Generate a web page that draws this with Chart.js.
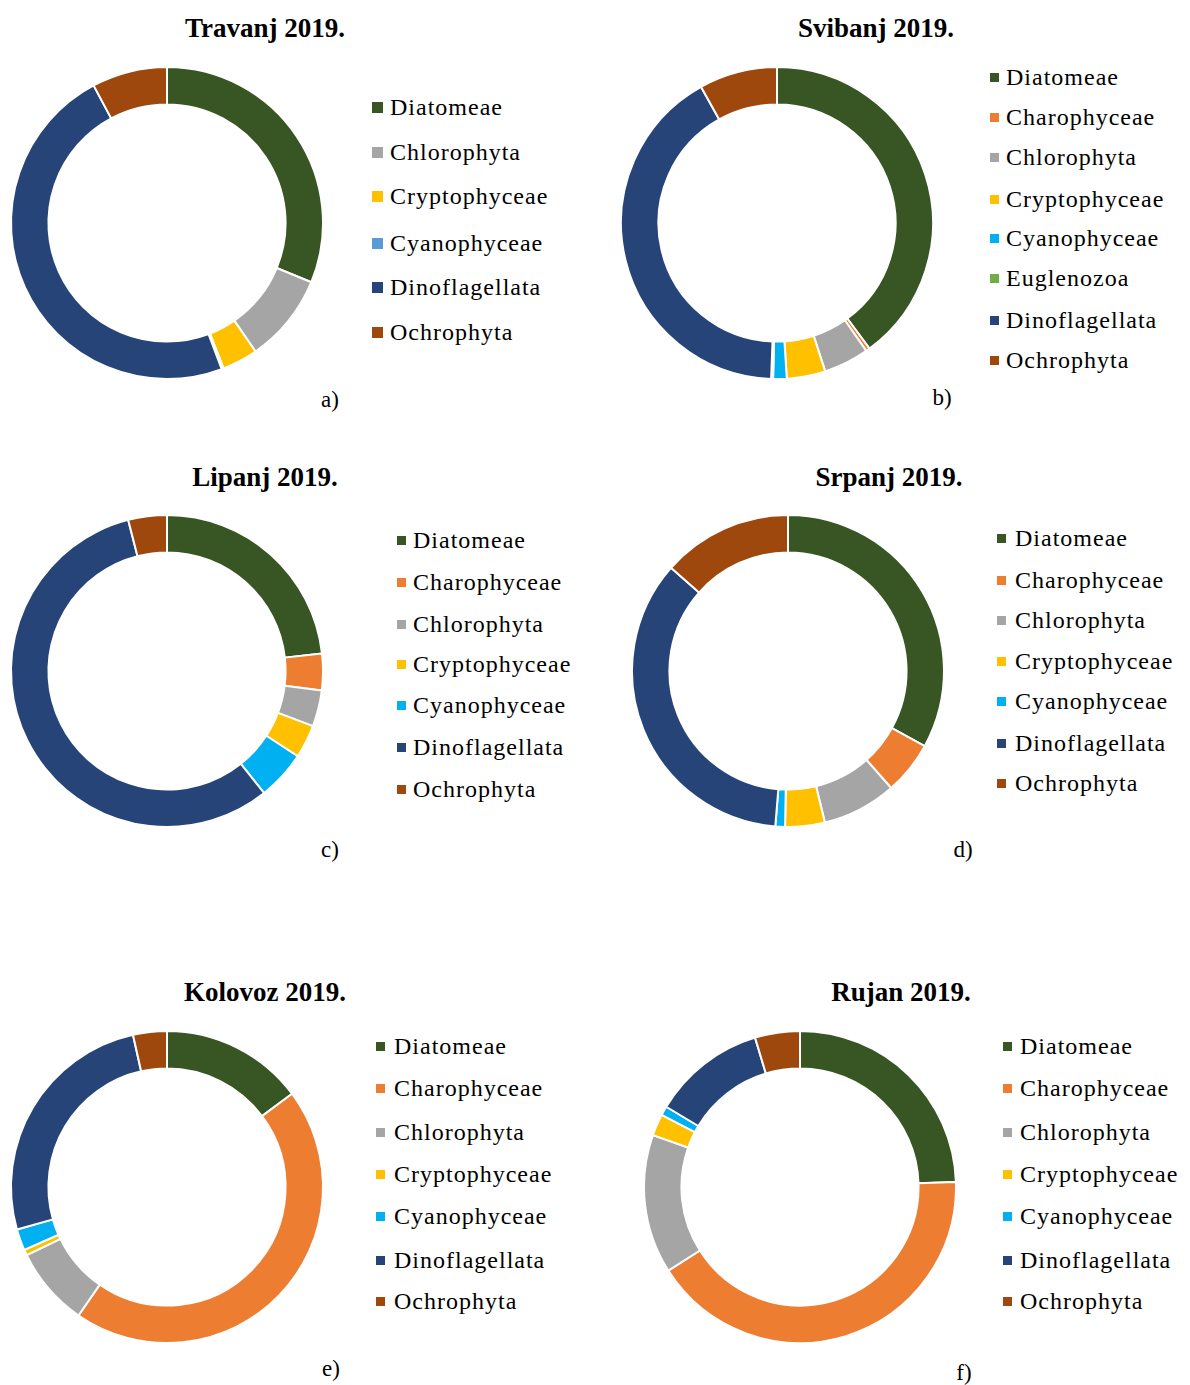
<!DOCTYPE html>
<html>
<head>
<meta charset="utf-8">
<script src="https://cdn.jsdelivr.net/npm/chart.js@4.4.1/dist/chart.umd.min.js"></script>
<style>
  html, body { margin: 0; padding: 0; background: #fff; }
  #page { position: relative; width: 1190px; height: 1385px; overflow: hidden; font-family: "Liberation Serif", "Times New Roman", serif; color: #000; }
  canvas { position: absolute; }
  .title { position: absolute; font-weight: bold; font-size: 27px; white-space: nowrap; transform: translate(-50%, -50%); line-height: 1; }
  .leg-sq { position: absolute; }
  .leg-tx { position: absolute; font-size: 24px; letter-spacing: 1px; white-space: nowrap; transform: translateY(-50%); line-height: 1; }
  .tag { position: absolute; font-size: 23px; white-space: nowrap; transform: translate(-50%, -50%); line-height: 1; }
</style>
</head>
<body>
<div id="page"></div>
<script>
// ---------- data ----------
const titles = ["Travanj 2019.", "Svibanj 2019.", "Lipanj 2019.", "Srpanj 2019.", "Kolovoz 2019.", "Rujan 2019."];
const tags = ["a)", "b)", "c)", "d)", "e)", "f)"];

const travanjLabels = ["Diatomeae", "Chlorophyta", "Cryptophyceae", "Cyanophyceae", "Dinoflagellata", "Ochrophyta"];
const travanjValues = [31.2, 9.2, 3.7, 0.2, 47.9, 7.8];

const svibanjLabels = ["Diatomeae", "Charophyceae", "Chlorophyta", "Cryptophyceae", "Cyanophyceae", "Euglenozoa", "Dinoflagellata", "Ochrophyta"];
const svibanjValues = [39.9, 0.4, 4.7, 4.0, 1.4, 0.2, 41.3, 8.1];

const lipanjLabels = ["Diatomeae", "Charophyceae", "Chlorophyta", "Cryptophyceae", "Cyanophyceae", "Dinoflagellata", "Ochrophyta"];
const lipanjValues = [23.2, 3.8, 3.75, 3.45, 5.1, 56.7, 4.0];

const srpanjLabels = ["Diatomeae", "Charophyceae", "Chlorophyta", "Cryptophyceae", "Cyanophyceae", "Dinoflagellata", "Ochrophyta"];
const srpanjValues = [33.0, 5.5, 7.7, 4.1, 1.0, 35.2, 13.5];

const kolovozLabels = ["Diatomeae", "Charophyceae", "Chlorophyta", "Cryptophyceae", "Cyanophyceae", "Dinoflagellata", "Ochrophyta"];
const kolovozValues = [14.8, 44.8, 8.2, 0.6, 2.2, 25.9, 3.5];

const rujanLabels = ["Diatomeae", "Charophyceae", "Chlorophyta", "Cryptophyceae", "Cyanophyceae", "Dinoflagellata", "Ochrophyta"];
const rujanValues = [24.5, 41.5, 14.4, 2.25, 0.95, 11.75, 4.65];

// ---------- styles ----------
const palette = {
  "Diatomeae": "#375623",
  "Charophyceae": "#ED7D31",
  "Chlorophyta": "#A5A5A5",
  "Cryptophyceae": "#FFC000",
  "Cyanophyceae": "#00B0F0",
  "Euglenozoa": "#70AD47",
  "Dinoflagellata": "#264478",
  "Ochrophyta": "#9E480E"
};
const paletteA = Object.assign({}, palette, { "Cyanophyceae": "#5B9BD5" });

const layouts = [
  { labels: travanjLabels, values: travanjValues, pal: paletteA, cx: 167, cy: 223, tx: 265, ty: 28, sqx: 372, sq: 11, txx: 390, legY: [107, 152, 196, 243, 287, 332], gx: 330, gy: 399 },
  { labels: svibanjLabels, values: svibanjValues, pal: palette, cx: 777, cy: 223, tx: 876, ty: 28, sqx: 990, sq: 9, txx: 1006, legY: [77, 117, 157, 199, 238, 278, 320, 360], gx: 942, gy: 397 },
  { labels: lipanjLabels, values: lipanjValues, pal: palette, cx: 167, cy: 671, tx: 265, ty: 477, sqx: 397, sq: 9, txx: 413, legY: [540, 582, 624, 664, 705, 747, 789], gx: 330, gy: 849 },
  { labels: srpanjLabels, values: srpanjValues, pal: palette, cx: 788, cy: 671, tx: 889, ty: 477, sqx: 997, sq: 9, txx: 1015, legY: [538, 580, 620, 661, 701, 743, 783], gx: 963, gy: 849 },
  { labels: kolovozLabels, values: kolovozValues, pal: palette, cx: 167, cy: 1187, tx: 265, ty: 992, sqx: 376, sq: 9, txx: 394, legY: [1046, 1088, 1132, 1174, 1216, 1260, 1301], gx: 331, gy: 1368 },
  { labels: rujanLabels, values: rujanValues, pal: palette, cx: 800, cy: 1187, tx: 901, ty: 992, sqx: 1003, sq: 9, txx: 1020, legY: [1046, 1088, 1132, 1174, 1216, 1260, 1301], gx: 964, gy: 1372 }
];

const page = document.getElementById("page");
const SIZE = 320;

layouts.forEach((L, i) => {
  const cv = document.createElement("canvas");
  cv.width = SIZE; cv.height = SIZE;
  cv.style.width = SIZE + "px"; cv.style.height = SIZE + "px";
  cv.style.left = (L.cx - SIZE / 2) + "px";
  cv.style.top = (L.cy - SIZE / 2) + "px";
  page.appendChild(cv);

  const chart = new Chart(cv.getContext("2d"), {
    type: "doughnut",
    data: {
      labels: L.labels,
      datasets: [{
        data: L.values,
        backgroundColor: L.labels.map(n => L.pal[n]),
        borderColor: "#ffffff",
        borderWidth: 2
      }]
    },
    options: {
      responsive: false,
      animation: false,
      cutout: "76%",
      layout: { padding: 3 },
      plugins: { legend: { display: false }, tooltip: { enabled: false }, title: { display: false } }
    }
  });

  // title
  const t = document.createElement("div");
  t.className = "title";
  t.textContent = titles[i];
  t.style.left = L.tx + "px"; t.style.top = L.ty + "px";
  page.appendChild(t);

  // legend built from the chart's own legend items
  const items = Chart.overrides.doughnut.plugins.legend.labels.generateLabels(chart);
  items.forEach((it, k) => {
    const y = L.legY[k];
    const sq = document.createElement("div");
    sq.className = "leg-sq";
    sq.style.left = L.sqx + "px";
    sq.style.top = (y - L.sq / 2) + "px";
    sq.style.width = L.sq + "px"; sq.style.height = L.sq + "px";
    sq.style.background = it.fillStyle;
    page.appendChild(sq);
    const tx = document.createElement("div");
    tx.className = "leg-tx";
    tx.textContent = it.text;
    tx.style.left = L.txx + "px"; tx.style.top = y + "px";
    page.appendChild(tx);
  });

  const g = document.createElement("div");
  g.className = "tag";
  g.textContent = tags[i];
  g.style.left = L.gx + "px"; g.style.top = L.gy + "px";
  page.appendChild(g);
});
</script>
</body>
</html>
